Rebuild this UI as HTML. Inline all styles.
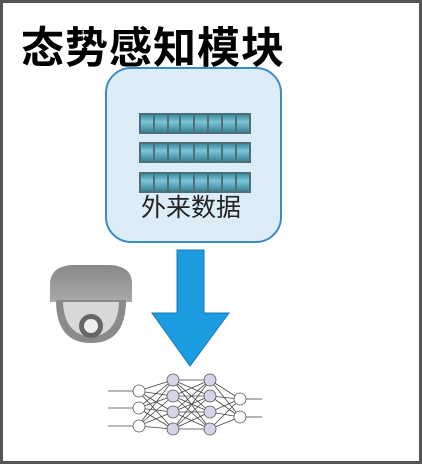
<!DOCTYPE html><html><head><style>
body{margin:0;background:#fff;width:422px;height:464px;overflow:hidden;position:relative;font-family:"Liberation Sans","Noto Sans CJK SC",sans-serif}
#frame{position:absolute;left:0;top:0;width:416px;height:458px;border:3px solid #555}
.t{position:absolute;left:21px;top:14px;font-size:43px;font-weight:bold;letter-spacing:1px;color:#000;white-space:nowrap}
.box{position:absolute;left:105px;top:67px;width:173px;height:172px;border:2px solid #3d8bc6;border-radius:26px;background:#dcedf8}
.lbl{position:absolute;left:141px;top:188px;font-size:25px;color:#222;white-space:nowrap}
</style></head><body>
<div id="frame"></div>
<div class="t">态势感知模块</div>
<div class="box"></div>
<svg width="422" height="464" style="position:absolute;left:0;top:0">
<defs><linearGradient id="c" x1="0" x2="0" y1="0" y2="1"><stop offset="0" stop-color="#3e8ea0"/><stop offset=".4" stop-color="#7cc6d8"/><stop offset="1" stop-color="#3b8397"/></linearGradient>
<linearGradient id="cam" x1="0" x2="0" y1="0" y2="1"><stop offset="0" stop-color="#888"/><stop offset="1" stop-color="#aaa"/></linearGradient></defs>
<g id="rows">
<g transform="translate(139,113)"><rect width="112" height="21" fill="#4d6f78"/>
<g fill="url(#c)"><rect x="2" y="2" width="12" height="17"/><rect x="16" y="2" width="12" height="17"/><rect x="30" y="2" width="10" height="17"/><rect x="42" y="2" width="12" height="17"/><rect x="56" y="2" width="12" height="17"/><rect x="70" y="2" width="12" height="17"/><rect x="84" y="2" width="12" height="17"/><rect x="98" y="2" width="12" height="17"/></g></g>
<g transform="translate(139,142)"><rect width="112" height="21" fill="#4d6f78"/>
<g fill="url(#c)"><rect x="2" y="2" width="12" height="17"/><rect x="16" y="2" width="12" height="17"/><rect x="30" y="2" width="10" height="17"/><rect x="42" y="2" width="12" height="17"/><rect x="56" y="2" width="12" height="17"/><rect x="70" y="2" width="12" height="17"/><rect x="84" y="2" width="12" height="17"/><rect x="98" y="2" width="12" height="17"/></g></g>
<g transform="translate(139,172)"><rect width="112" height="21" fill="#4d6f78"/>
<g fill="url(#c)"><rect x="2" y="2" width="12" height="17"/><rect x="16" y="2" width="12" height="17"/><rect x="30" y="2" width="10" height="17"/><rect x="42" y="2" width="12" height="17"/><rect x="56" y="2" width="12" height="17"/><rect x="70" y="2" width="12" height="17"/><rect x="84" y="2" width="12" height="17"/><rect x="98" y="2" width="12" height="17"/></g></g>
</g>
<polygon points="177,250 204,250 204,313 229,313 190,366 152,313 177,313" fill="#1b9be0" stroke="#1677b8" stroke-width="1"/>
<!-- camera -->
<path d="M50,282 Q52,266 72,265 L110,265 Q131,266 132,282 L132,302 L50,302 Z" fill="url(#cam)"/>
<path d="M56,300 L126,300 Q126,343 91,343 Q56,343 56,300 Z" fill="#8a8a8a"/>
<path d="M63,302 L119,302 Q118,334 91,337 Q64,334 63,302 Z" fill="#d8d8d8"/>
<circle cx="91" cy="326" r="12" fill="#666"/><circle cx="91" cy="326" r="7" fill="#eee"/>
<!-- NN -->
<g stroke="#444" stroke-width="0.8" fill="none">
<line x1="108" y1="391" x2="136" y2="391"/><line x1="108" y1="408" x2="136" y2="408"/><line x1="108" y1="426" x2="136" y2="426"/>
<path d="M138,391 L173,380 M138,391 L173,396 M138,391 L173,412 M138,391 L173,429 M138,408 L173,380 M138,408 L173,396 M138,408 L173,412 M138,408 L173,429 M138,426 L173,380 M138,426 L173,396 M138,426 L173,412 M138,426 L173,429"/>
<path d="M173,380 L210,380 M173,380 L210,396 M173,380 L210,412 M173,380 L210,429 M173,396 L210,380 M173,396 L210,396 M173,396 L210,412 M173,396 L210,429 M173,412 L210,380 M173,412 L210,396 M173,412 L210,412 M173,412 L210,429 M173,429 L210,380 M173,429 L210,396 M173,429 L210,412 M173,429 L210,429"/>
<path d="M210,380 L240,399 M210,396 L240,399 M210,412 L240,399 M210,429 L240,399 M210,380 L240,417 M210,396 L240,417 M210,412 L240,417 M210,429 L240,417"/>
<line x1="246" y1="399" x2="262" y2="399"/><line x1="246" y1="417" x2="262" y2="417"/>
</g>
<g stroke="#555" stroke-width="0.8">
<g fill="#fff"><circle cx="139" cy="391" r="6"/><circle cx="139" cy="408" r="6"/><circle cx="139" cy="426" r="6"/><circle cx="240" cy="399" r="6"/><circle cx="240" cy="417" r="6"/></g>
<g fill="#d9d1e6"><circle cx="173" cy="380" r="6"/><circle cx="173" cy="396" r="6"/><circle cx="173" cy="412" r="6"/><circle cx="173" cy="429" r="6"/><circle cx="210" cy="380" r="6"/><circle cx="210" cy="396" r="6"/><circle cx="210" cy="412" r="6"/><circle cx="210" cy="429" r="6"/></g>
</g>
</svg>
<div class="lbl">外来数据</div>
</body></html>
